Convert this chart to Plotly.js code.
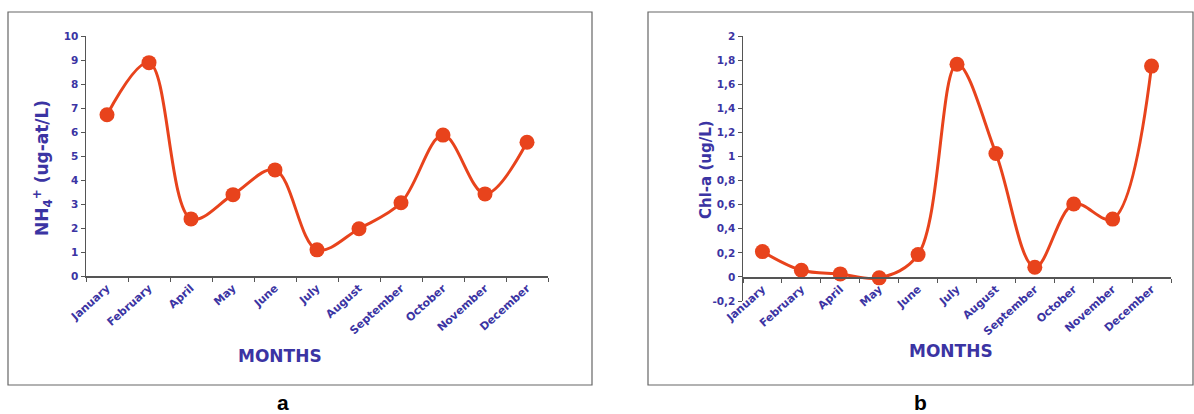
<!DOCTYPE html>
<html>
<head>
<meta charset="utf-8">
<script src="https://cdn.plot.ly/plotly-3.0.1.min.js"></script>
<style>html,body{margin:0;padding:0;background:#fff;}#chart{width:1194px;height:414px;}</style>
</head>
<body>
<div id="chart"></div>
<script>
const months = ["January","February","April","May","June","July","August","September","October","November","December"];
const nh4 = [6.72, 8.89, 2.38, 3.39, 4.42, 1.09, 1.97, 3.05, 5.87, 3.42, 5.57];
const chla = [0.21, 0.055, 0.025, -0.008, 0.185, 1.765, 1.025, 0.08, 0.605, 0.48, 1.75];
const yTicksA = [0,1,2,3,4,5,6,7,8,9,10];
const yTicksB = [-0.2,0,0.2,0.4,0.6,0.8,1,1.2,1.4,1.6,1.8,2];
const yTickTextB = ["-0,2","0","0,2","0,4","0,6","0,8","1","1,2","1,4","1,6","1,8","2"];

const W = 1194, H = 414;
const px = v => v / W;
const py = v => (H - v) / H;

const txt = "#3b34a3";
const red = "#e8431c";
const FAM = "DejaVu Sans, Verdana, sans-serif";
const fnt = {family: FAM, size: 10.5, color: txt, weight: "bold"};
const fntX = {family: FAM, size: 11, color: txt, weight: "bold"};

function trace(y, xa, ya) {
  return {
    x: months, y: y, xaxis: xa, yaxis: ya, type: "scatter", mode: "lines+markers",
    line: {shape: "spline", smoothing: 1, color: red, width: 3},
    marker: {color: red, size: 15},
    hoverinfo: "skip"
  };
}

const axX = {
  type: "category", tickangle: -42, tickfont: fntX, showgrid: false, zeroline: false,
  showline: true, linecolor: "#555", linewidth: 1.5, ticks: "outside", ticklen: 4,
  tickcolor: "#555", tickson: "boundaries", range: [-0.5, 10.5], fixedrange: true
};
const axY = {
  showgrid: false, zeroline: false, showline: true, linecolor: "#555", linewidth: 1.5,
  ticks: "outside", ticklen: 4, tickcolor: "#555", tickfont: fnt, fixedrange: true
};

function ann(text, x, y, size, extra) {
  return Object.assign({text: text, xref: "paper", yref: "paper", x: px(x), y: py(y),
    xanchor: "center", yanchor: "middle", showarrow: false,
    font: {family: FAM, size: size, color: txt}}, extra || {});
}

const layout = {
  width: W, height: H, margin: {l: 0, r: 0, t: 0, b: 0},
  paper_bgcolor: "#fff", plot_bgcolor: "rgba(0,0,0,0)", showlegend: false,
  xaxis: Object.assign({}, axX, {domain: [px(86), px(548)], anchor: "y"}),
  yaxis: Object.assign({}, axY, {domain: [py(276), py(36)], range: [0, 10], tickvals: yTicksA, anchor: "x"}),
  xaxis2: Object.assign({}, axX, {domain: [px(743), px(1171)], anchor: "free", position: py(277)}),
  yaxis2: Object.assign({}, axY, {domain: [py(301), py(36)], range: [-0.2, 2], tickvals: yTicksB, ticktext: yTickTextB, anchor: "x2"}),
  shapes: [
    {type: "rect", xref: "paper", yref: "paper", x0: px(8), x1: px(592), y0: py(385), y1: py(12), line: {color: "#666", width: 1.2}},
    {type: "rect", xref: "paper", yref: "paper", x0: px(648), x1: px(1193), y0: py(385), y1: py(12), line: {color: "#666", width: 1.2}}
  ],
  annotations: [
    ann("<b>MONTHS</b>", 280, 356, 17),
    ann("<b>MONTHS</b>", 951, 351, 17),
    ann("<b>NH<sub>4</sub><sup>+</sup> (ug-at/L)</b>", 42, 168, 17, {textangle: -90}),
    ann("<b>Chl-a (ug/L)</b>", 706, 170, 15, {textangle: -90}),
    ann("<b>a</b>", 283, 402, 21, {font: {family: "Liberation Sans, Arial, sans-serif", size: 21, color: "#000"}}),
    ann("<b>b</b>", 920, 402, 21, {font: {family: "Liberation Sans, Arial, sans-serif", size: 21, color: "#000"}})
  ]
};

Plotly.newPlot("chart", [trace(nh4, "x", "y"), trace(chla, "x2", "y2")], layout, {staticPlot: true});
</script>
</body>
</html>
